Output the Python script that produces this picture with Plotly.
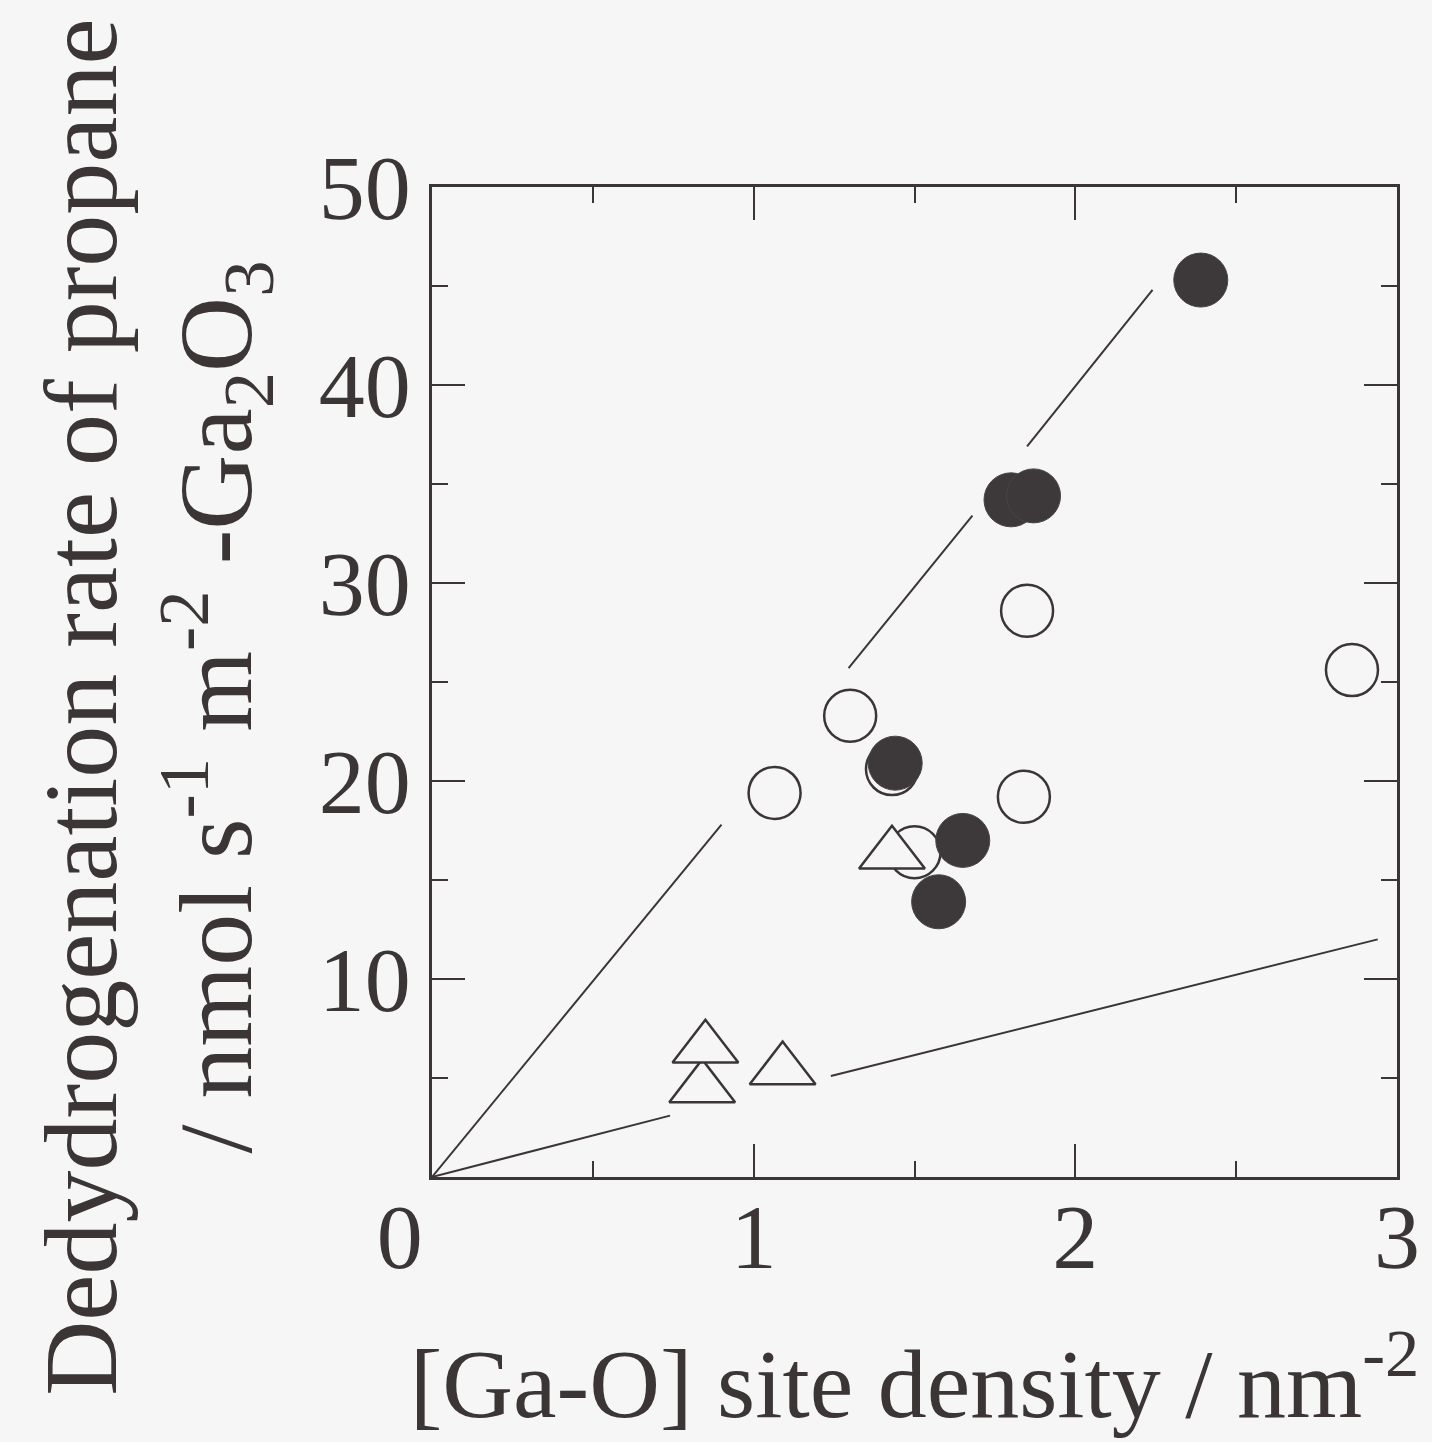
import plotly.graph_objects as go

# ---- data ----
filled_x = [2.39, 1.80, 1.87, 1.44, 1.65, 1.575]
filled_y = [45.3, 34.2, 34.4, 20.9, 17.0, 13.9]

open_x = [1.065, 1.30, 1.85, 2.86, 1.84, 1.43, 1.50]
open_y = [19.4, 23.3, 28.6, 25.6, 19.2, 20.6, 16.4]

tri_x = [0.84, 0.85, 1.09, 1.43]
tri_y = [4.5, 6.5, 5.4, 16.3]

# steep guide line (segments broken around the markers)
lineA_x = [0, 0.90, None, 1.295, 1.68, None, 1.85, 2.24]
lineA_y = [0, 17.8, None, 25.7, 33.4, None, 36.9, 44.8]
# shallow guide line
lineB_x = [0, 0.74, None, 1.24, 2.94]
lineB_y = [0, 3.1, None, 5.1, 12.0]

x_tickvals = [0, 1, 2, 3]
x_ticktext = ["0\u00a0\u00a0\u2009", "1", "2", "3"]
y_tickvals = [0, 10, 20, 30, 40, 50]
y_ticktext = ["", "10", "20", "30", "40", "50"]

ink = "#3b3536"
bg = "#f6f6f6"
font_family = "Liberation Serif, Times New Roman, serif"

fig = go.Figure()
fig.add_trace(go.Scatter(x=lineA_x, y=lineA_y, mode="lines",
                         line=dict(color=ink, width=2), connectgaps=False,
                         hoverinfo="skip", showlegend=False))
fig.add_trace(go.Scatter(x=lineB_x, y=lineB_y, mode="lines",
                         line=dict(color=ink, width=2), connectgaps=False,
                         hoverinfo="skip", showlegend=False))
fig.add_trace(go.Scatter(x=open_x, y=open_y, mode="markers",
                         marker=dict(symbol="circle", size=52, color=bg,
                                     line=dict(color=ink, width=2.5)),
                         showlegend=False))
fig.add_trace(go.Scatter(x=tri_x, y=tri_y, mode="markers",
                         marker=dict(symbol="triangle-up", size=57, color=bg,
                                     line=dict(color=ink, width=2.5)),
                         showlegend=False))
fig.add_trace(go.Scatter(x=filled_x, y=filled_y, mode="markers",
                         marker=dict(symbol="circle", size=54, color="#3d3839",
                                     line=dict(color="#4a4445", width=1)),
                         showlegend=False))

axis_common = dict(
    showline=True, linecolor=ink, linewidth=2.5, mirror="allticks",
    ticks="inside", ticklen=33, tickwidth=2, tickcolor=ink,
    showgrid=False, zeroline=False,
    tickfont=dict(family=font_family, size=92, color=ink),
)

fig.update_xaxes(
    range=[0, 3], tickmode="array", tickvals=x_tickvals, ticktext=x_ticktext,
    ticklabelstandoff=-22,
    minor=dict(ticks="inside", ticklen=16, tickwidth=2, tickcolor=ink, dtick=0.5, tick0=0),
    title=dict(text="[Ga-O] site density / nm<sup>-2</sup>",
               font=dict(family=font_family, size=98, color=ink), standoff=62),
    **axis_common,
)
fig.update_yaxes(
    range=[0, 50], tickmode="array", tickvals=y_tickvals, ticktext=y_ticktext,
    minor=dict(ticks="inside", ticklen=16, tickwidth=2, tickcolor=ink, dtick=5, tick0=0),
    **axis_common,
)

fig.add_annotation(
    text="Dedydrogenation rate of propane<br>/ nmol s<sup>-1</sup> m<sup>-2</sup> -Ga<sub>2</sub>O<sub>3</sub>",
    xref="paper", yref="paper", x=-0.286, y=0.474,
    xanchor="center", yanchor="middle", textangle=-90, showarrow=False,
    font=dict(family=font_family, size=104, color=ink), align="center",
)

fig.update_layout(
    width=1432, height=1442,
    margin=dict(l=432, r=35, t=187, b=265, autoexpand=False),
    paper_bgcolor=bg, plot_bgcolor=bg,
    showlegend=False,
)

fig.write_html("out.html")
